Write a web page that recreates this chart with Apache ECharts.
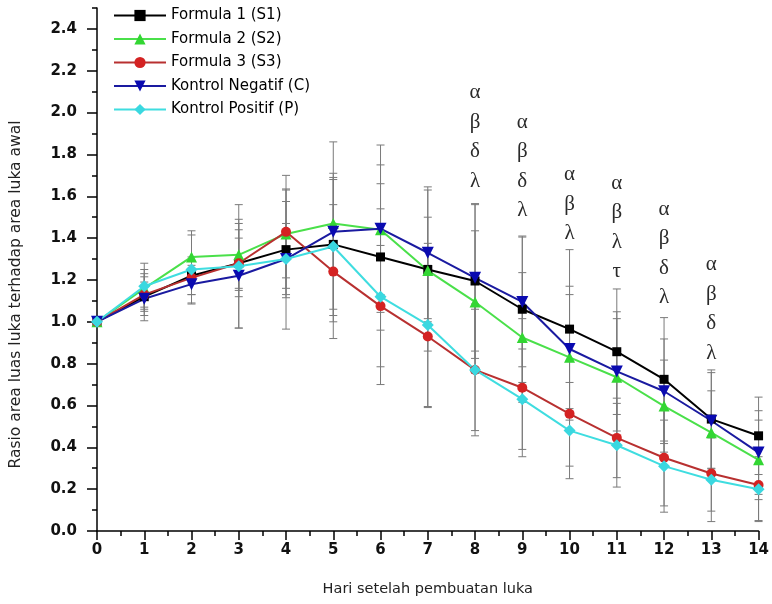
<!DOCTYPE html>
<html>
<head>
<meta charset="utf-8">
<script src="https://cdn.jsdelivr.net/npm/echarts@6/dist/echarts.min.js"></script>
<style>
html,body{margin:0;padding:0;background:#fff;}
#chart{width:772px;height:604px;}
</style>
</head>
<body>
<div id="chart"></div>
<script>
var days = [0,1,2,3,4,5,6,7,8,9,10,11,12,13,14];
var yTickLabels = [0,0.2,0.4,0.6,0.8,1.0,1.2,1.4,1.6,1.8,2.0,2.2,2.4];

var s1 = [1.00,1.12,1.22,1.28,1.345,1.37,1.31,1.25,1.195,1.06,0.965,0.857,0.725,0.535,0.455];
var s2 = [1.00,1.16,1.31,1.32,1.42,1.47,1.44,1.245,1.095,0.925,0.83,0.735,0.597,0.47,0.34];
var s3 = [1.00,1.13,1.21,1.28,1.43,1.24,1.075,0.93,0.77,0.685,0.56,0.445,0.35,0.275,0.22];
var kc = [1.00,1.11,1.18,1.22,1.30,1.43,1.445,1.33,1.21,1.095,0.87,0.763,0.668,0.527,0.375];
var kp = [1.00,1.17,1.25,1.265,1.30,1.36,1.12,0.985,0.77,0.63,0.48,0.41,0.31,0.245,0.20];

var s1Err = [0,0.07,0.09,0.16,0.23,0.31,0.35,0.25,0.37,0.35,0.38,0.30,0.295,0.235,0.185];
var s2Err = [0,0.09,0.125,0.17,0.21,0.24,0.31,0.385,0.34,0.31,0.30,0.28,0.22,0.20,0.19];
var s3Err = [0,0.10,0.08,0.12,0.27,0.32,0.29,0.34,0.315,0.33,0.25,0.19,0.23,0.18,0.17];
var kcErr = [0,0.105,0.09,0.25,0.17,0.43,0.40,0.315,0.35,0.31,0.30,0.285,0.25,0.23,0.20];
var kpErr = [0,0.11,0.165,0.295,0.335,0.33,0.42,0.39,0.29,0.24,0.23,0.20,0.22,0.20,0.155];

var annDays = [8,9,10,11,12,13];
var annTop = [2.094,1.955,1.702,1.663,1.539,1.272];
var annLetters = [['α','β','δ','λ'],['α','β','δ','λ'],['α','β','λ'],['α','β','λ','τ'],['α','β','δ','λ'],['α','β','δ','λ']];

var names = ['Formula 1 (S1)','Formula 2 (S2)','Formula 3 (S3)','Kontrol Negatif (C)','Kontrol Positif (P)'];

var chart = echarts.init(document.getElementById('chart'), null, {renderer:'canvas'});

function pairs(arr){ return days.map(function(d,i){ return [d, arr[i]]; }); }
function errData(mean, err){
  var out = [];
  days.forEach(function(d,i){ if (err[i] > 0) out.push([d, mean[i]-err[i], mean[i]+err[i]]); });
  return out;
}
function errRender(params, api){
  var x = api.value(0), lo = api.value(1), hi = api.value(2);
  var a = api.coord([x, hi]), b = api.coord([x, lo]);
  var w = 4, st = {stroke:'#7a7a7a', lineWidth:1};
  return {type:'group', children:[
    {type:'line', shape:{x1:a[0],y1:a[1],x2:b[0],y2:b[1]}, style:st},
    {type:'line', shape:{x1:a[0]-w,y1:a[1],x2:a[0]+w,y2:a[1]}, style:st},
    {type:'line', shape:{x1:b[0]-w,y1:b[1],x2:b[0]+w,y2:b[1]}, style:st}
  ]};
}
function errSeries(mean, err){
  return {type:'custom', renderItem: errRender, data: errData(mean, err),
    encode:{x:0, y:[1,2]}, z:1, silent:true, clip:false};
}

var lineBase = {type:'line', lineStyle:{width:2}, z:3, clip:false};

var option = {
  animation:false,
  backgroundColor:'#ffffff',
  grid:{left:93, right:8, top:8, bottom:73, containLabel:false},
  legend:{
    orient:'vertical', left:113, top:8, padding:0,
    itemWidth:52, itemHeight:14, itemGap:8.5,
    textStyle:{fontFamily:'DejaVu Sans', fontSize:15, color:'#000'},
    data:names
  },
  xAxis:{
    type:'value', min:0, max:14, interval:1,
    name:'Hari setelah pembuatan luka', nameLocation:'middle', nameGap:51,
    nameTextStyle:{fontFamily:'DejaVu Sans', fontSize:14.5, color:'#222'},
    axisLine:{show:true, lineStyle:{color:'#000', width:1.5}},
    axisTick:{show:true, inside:false, length:9, lineStyle:{color:'#000', width:1.5}},
    minorTick:{show:true, splitNumber:2, length:5, lineStyle:{color:'#000', width:1.5}},
    splitLine:{show:false},
    axisLabel:{margin:12, fontFamily:'DejaVu Sans', fontWeight:'bold', fontSize:15, color:'#111'}
  },
  yAxis:[{
    type:'value', min:0, max:2.5, interval:0.1, position:'left',
    name:'Rasio area luas luka terhadap area luka awal', nameLocation:'middle', nameGap:73,
    nameTextStyle:{fontFamily:'DejaVu Sans', fontSize:15.5, color:'#222', padding:[0,50,0,0]},
    axisLine:{show:true, lineStyle:{color:'#000', width:1.5}},
    axisTick:{show:true, inside:false, length:5, lineStyle:{color:'#000', width:1.5}},
    splitLine:{show:false},
    axisLabel:{show:false}
  },{
    type:'value', min:0, max:2.5, interval:0.1, position:'left', offset:0,
    axisLine:{show:false},
    axisTick:{show:true, inside:false, length:10, customValues:yTickLabels, lineStyle:{color:'#000', width:1.5}},
    splitLine:{show:false},
    axisLabel:{show:true, margin:20, customValues:yTickLabels, fontFamily:'DejaVu Sans', fontWeight:'bold', fontSize:15, color:'#111',
      formatter:function(v){ return v.toFixed(1); }}
  }],
  series:[
    errSeries(s1, s1Err), errSeries(s2, s2Err), errSeries(s3, s3Err), errSeries(kc, kcErr), errSeries(kp, kpErr),
    Object.assign({}, lineBase, {name:names[0], data:pairs(s1), symbol:'rect', symbolSize:9,
      itemStyle:{color:'#000000'}, lineStyle:{width:2, color:'#000000'}}),
    Object.assign({}, lineBase, {name:names[1], data:pairs(s2), symbol:'triangle', symbolSize:11,
      itemStyle:{color:'#33d633'}, lineStyle:{width:2, color:'#4ae04a'}}),
    Object.assign({}, lineBase, {name:names[2], data:pairs(s3), symbol:'circle', symbolSize:10,
      itemStyle:{color:'#d42222'}, lineStyle:{width:2, color:'#b83030'}}),
    Object.assign({}, lineBase, {name:names[3], data:pairs(kc), symbol:'triangle', symbolRotate:180, symbolSize:12,
      itemStyle:{color:'#0a0ab0'}, lineStyle:{width:2, color:'#1a1aa0'}}),
    Object.assign({}, lineBase, {name:names[4], data:pairs(kp), symbol:'diamond', symbolSize:12,
      itemStyle:{color:'#3ad8e0'}, lineStyle:{width:2, color:'#3fdde0'}}),
    {type:'custom', z:5, silent:true, clip:false,
      data: annDays.map(function(d,i){ return [d, annTop[i]]; }),
      encode:{x:0, y:1},
      renderItem:function(params, api){
        var i = params.dataIndex;
        var p = api.coord([api.value(0), api.value(1)]);
        var kids = annLetters[i].map(function(ch, k){
          return {type:'text', x:p[0], y:p[1] + k*29.5,
            style:{text:ch, fontFamily:'Liberation Serif', fontSize:21, fill:'#2a2a2a',
              align:'center', verticalAlign:'middle', textAlign:'center', textVerticalAlign:'middle'}};
        });
        return {type:'group', children:kids};
      }}
  ]
};
chart.setOption(option);
</script>
</body>
</html>
